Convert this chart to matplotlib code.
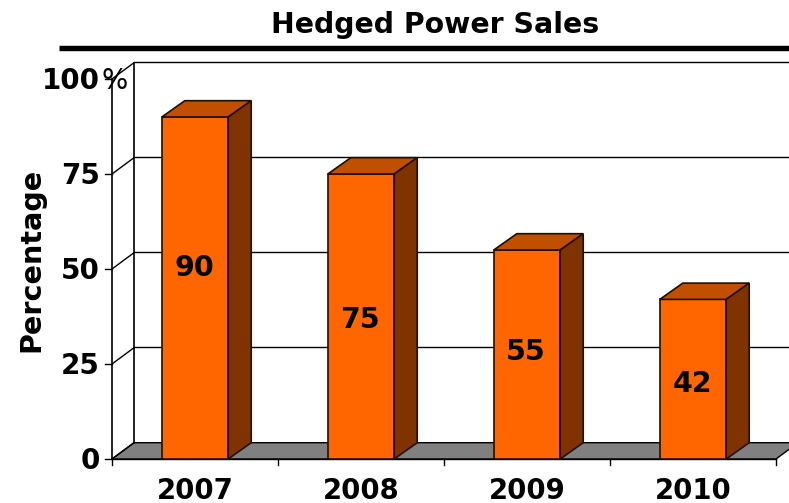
import matplotlib
matplotlib.use("Agg")
from matplotlib import pyplot as plt
from matplotlib.patches import Polygon

years = ["2007", "2008", "2009", "2010"]
hedged = [90, 75, 55, 42]
label_y = [50.3, 36.6, 28.2, 19.7]
y_ticks = [0, 25, 50, 75, 100]

W, H = 789, 503
fig = plt.figure(figsize=(W / 100, H / 100), dpi=100)
# front plane of the fake 3d box, in pixels from the reference
left, right, bottom, top = 112, 776, 459, 79
ax = fig.add_axes([left / W, 1 - bottom / H, (right - left) / W, (bottom - top) / H])
ax.set_xlim(0, len(years))
ax.set_ylim(0, 100)
ax.axis("off")

# depth of the box in data units
dx = 22 / ((right - left) / len(years))
dy = 16.3 / ((bottom - top) / 100)
bar_w = 0.4
bar_dx = 23 / ((right - left) / len(years))

n = len(years)
# floor
ax.add_patch(Polygon([(0, 0), (dx, dy), (n + dx, dy), (n, 0)], fc="#808080", ec="black", lw=1,
                     clip_on=False, zorder=1))
# walls and grid
for t in y_ticks:
    if t > 0:
        ax.plot([dx, n + dx], [t + dy + 0.2, t + dy + 0.2], color="black", lw=1, clip_on=False, zorder=1)
    ax.plot([0, dx], [t, t + dy], color="black", lw=1, clip_on=False, zorder=1)
    ax.plot([-0.045, 0], [t, t], color="black", lw=1, clip_on=False, zorder=1)
ax.plot([0, 0], [0, 100], color="black", lw=1.2, clip_on=False, zorder=1)
ax.plot([dx, dx], [dy, 100 + dy], color="black", lw=1.2, clip_on=False, zorder=1)
ax.plot([0, n], [0, 0], color="black", lw=1, clip_on=False, zorder=1)
for i in range(n + 1):
    ax.plot([i, i], [0, -1.6], color="black", lw=1, clip_on=False, zorder=1)

# bars
for i, v in enumerate(hedged):
    x0 = i + 0.5 - bar_w / 2
    x1 = i + 0.5 + bar_w / 2
    ax.add_patch(Polygon([(x0, 0), (x0, v), (x1, v), (x1, 0)], fc="#FF6600", ec="#201000", lw=1.2,
                         clip_on=False, zorder=3))
    ax.add_patch(Polygon([(x0, v), (x0 + bar_dx, v + dy), (x1 + bar_dx, v + dy), (x1, v)], fc="#C05000",
                         ec="#201000", lw=1.2, clip_on=False, zorder=3))
    ax.add_patch(Polygon([(x1, 0), (x1, v), (x1 + bar_dx, v + dy), (x1 + bar_dx, dy)], fc="#803300",
                         ec="#201000", lw=1.2, clip_on=False, zorder=3))
    ax.text(i + 0.5 - 0.005, label_y[i], str(v), ha="center", va="center", fontsize=20.5,
            fontweight="bold", color="black", zorder=4)
    ax.text(i + 0.5, -8.3, years[i], ha="center", va="center", fontsize=19.8, fontweight="bold",
            clip_on=False)

# y tick labels
for t in y_ticks:
    ax.text(-0.072, t - 0.6, str(t), ha="right", va="center", fontsize=20, fontweight="bold", zorder=2)
ax.text(-0.065, 99.6, "%", ha="left", va="center", fontsize=20, zorder=2)
ax.text(-0.487, 52.3, "Percentage", rotation=90, ha="center", va="center", fontsize=20.6,
        fontweight="bold")

# title and rule
fig.text(435 / W, 1 - 25 / H, "Hedged Power Sales", ha="center", va="center", fontsize=20.4,
         fontweight="bold")
fig.add_artist(plt.Line2D([59 / W, 1], [1 - 48 / H, 1 - 48 / H], color="black", lw=3.9,
                          solid_capstyle="butt"))

fig.savefig("out.png", dpi=100)
